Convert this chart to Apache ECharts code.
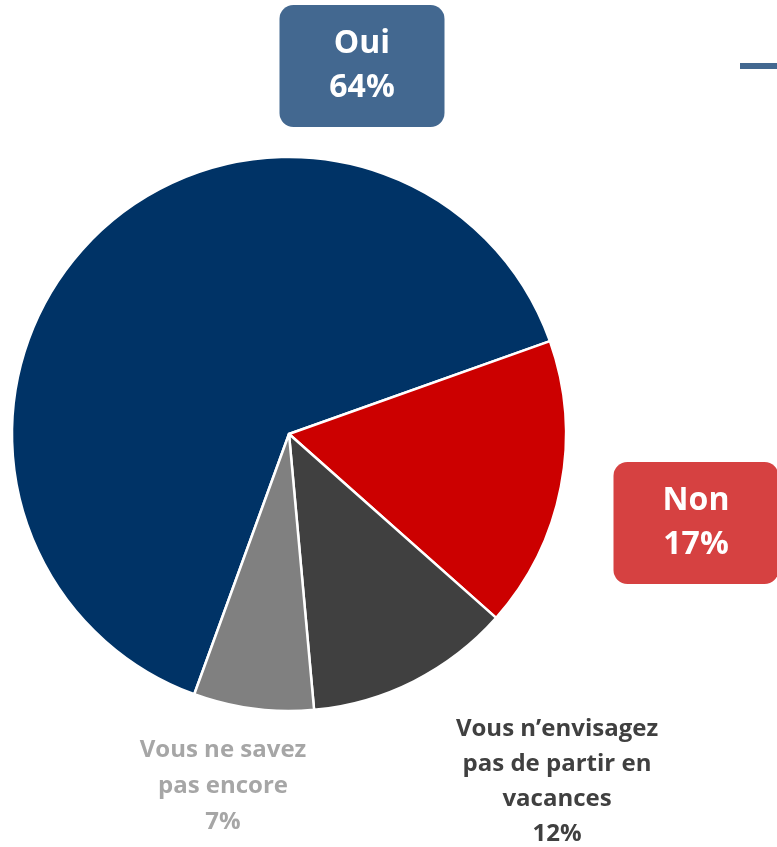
<!DOCTYPE html>
<html>
<head>
<meta charset="utf-8">
<script src="https://cdn.jsdelivr.net/npm/echarts@6/dist/echarts.min.js"></script>
<style>
  html, body { margin: 0; padding: 0; background: #fff; }
  #container { width: 777px; height: 847px; }
</style>
</head>
<body>
<div id="container"></div>
<script>
;(function() {
  // data
  var categories = ['Oui', 'Non', 'Vous n’envisagez\npas de partir en\nvacances', 'Vous ne savez\npas encore']
  var values = [64, 17, 12, 7]

  var sliceColors = ['#003366', '#cc0000', '#404040', '#808080']

  // label look, one per slice
  var labelStyles = [
    { color: '#fff', backgroundColor: '#436890', fontSize: 32, lineHeight: 44, width: 165, padding: [17, 0], borderRadius: 14 },
    { color: '#fff', backgroundColor: '#d64141', fontSize: 32, lineHeight: 44, width: 165, padding: [17, 0], borderRadius: 14 },
    { color: '#404040', fontSize: 24, lineHeight: 35 },
    { color: '#a6a6a6', fontSize: 24, lineHeight: 36 }
  ]
  var labelPos = [[362, 66], [696, 523], [557, 782], [223, 786]]

  var dom = document.getElementById('container')
  var myChart = echarts.init(dom)

  var data = []
  for (var i = 0; i < values.length; i++) {
    data.push({
      name: categories[i],
      value: values[i],
      itemStyle: { color: sliceColors[i] },
      label: labelStyles[i]
    })
  }

  var option = {
    animation: false,
    graphic: [{
      type: 'line',
      shape: { x1: 740, y1: 66, x2: 777, y2: 66 },
      style: { stroke: '#436890', lineWidth: 6 }
    }],
    series: [{
      type: 'pie',
      center: [289, 434],
      radius: 277,
      startAngle: 250,
      clockwise: true,
      avoidLabelOverlap: false,
      emphasis: { disabled: true },
      itemStyle: { borderColor: '#fff', borderWidth: 2.5 },
      label: {
        show: true,
        position: 'outside',
        fontFamily: 'Open Sans',
        fontWeight: 'bold',
        align: 'center',
        formatter: '{b}\n{c}%'
      },
      labelLine: { show: false },
      labelLayout: function(params) {
        var p = labelPos[params.dataIndex]
        return { x: p[0], y: p[1], align: 'center', verticalAlign: 'middle' }
      },
      data: data
    }]
  }

  myChart.setOption(option)
})()
</script>
</body>
</html>
